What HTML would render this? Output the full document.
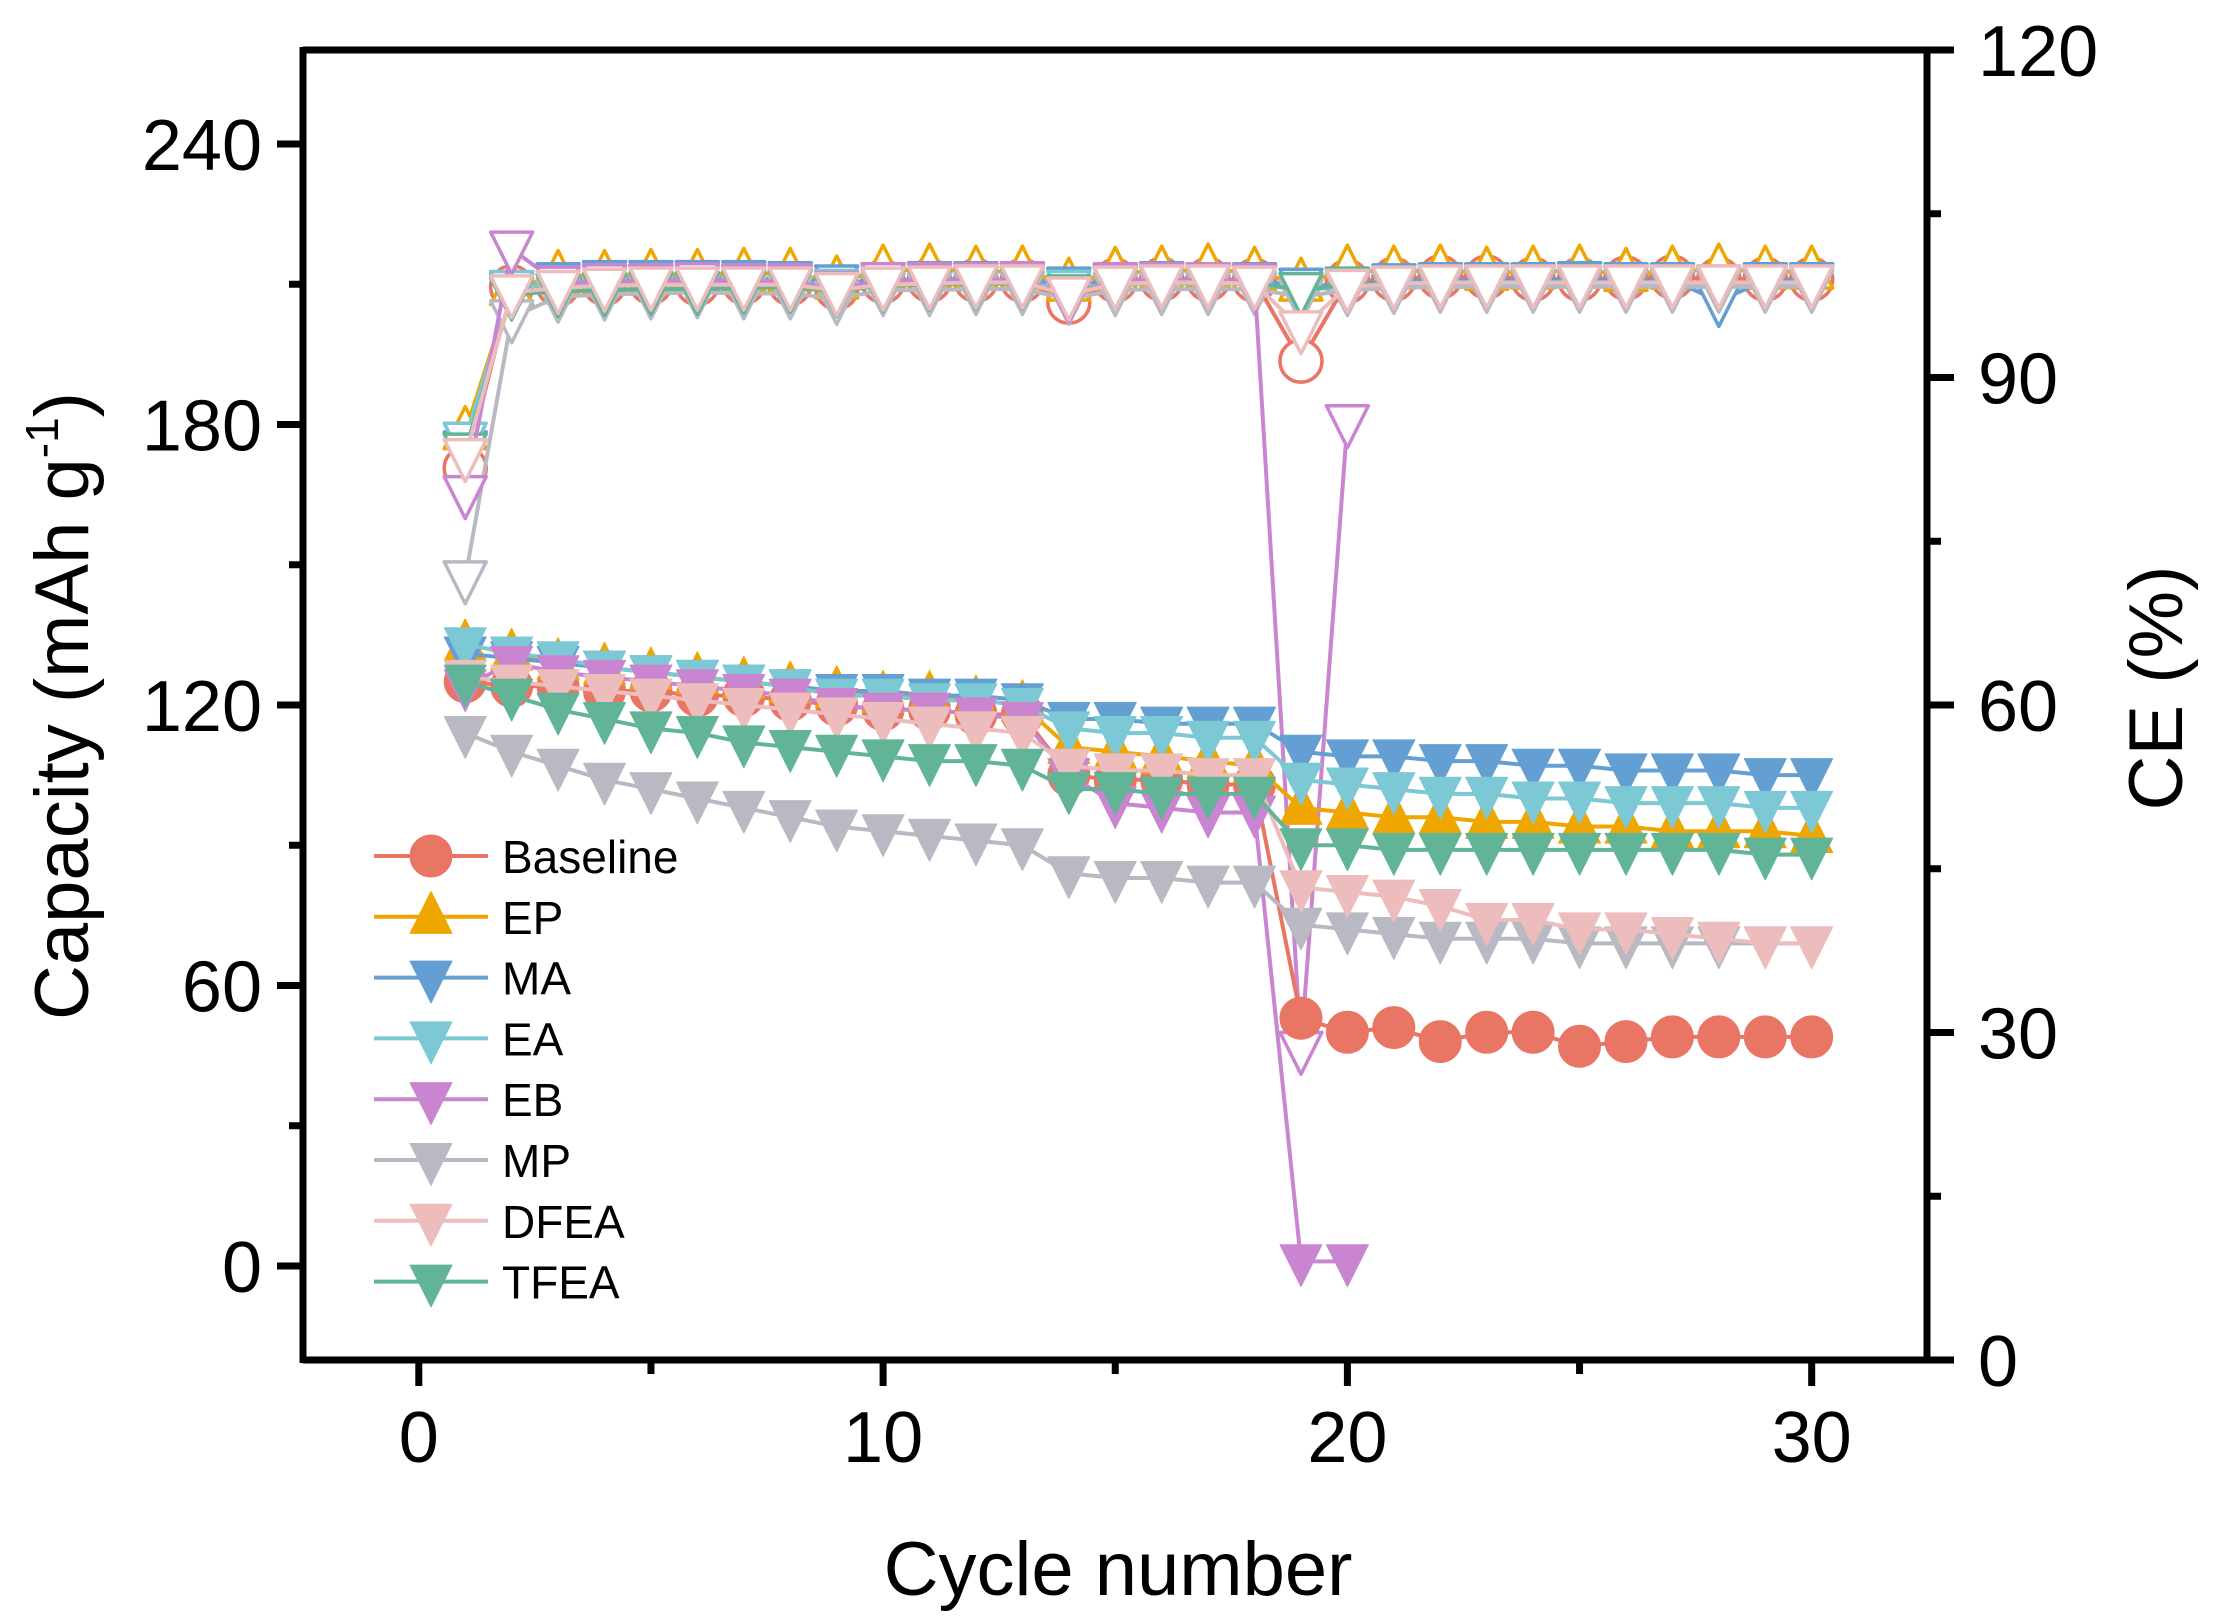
<!DOCTYPE html>
<html><head><meta charset="utf-8"><style>
html,body{margin:0;padding:0;background:#fff;}
svg{display:block;font-family:"Liberation Sans",Arial,sans-serif;}
</style></head><body>
<svg id="chart" width="2222" height="1619" viewBox="0 0 2222 1619" xmlns="http://www.w3.org/2000/svg">
<rect width="2222" height="1619" fill="#fff"/>
<g id="axes"></g>
<g id="series"></g>
<g id="legend"></g>
<text x="1118" y="1595" font-size="76" text-anchor="middle">Cycle number</text>
<text transform="translate(88,706) rotate(-90)" font-size="76" text-anchor="middle">Capacity (mAh g<tspan dy="-30" font-size="46">-1</tspan><tspan dy="30">)</tspan></text>
<text transform="translate(2182,688) rotate(-90)" font-size="76" text-anchor="middle">CE (%)</text>
</svg>
<script>
const cycles = [1,2,3,4,5,6,7,8,9,10,11,12,13,14,15,16,17,18,19,20,21,22,23,24,25,26,27,28,29,30];
const seriesNames = ["Baseline","EP","MA","EA","EB","MP","DFEA","TFEA"];
const capBaseline = [125,124,124,123,123,122,122,121,120,119,119,118,118,105,104,104,103,103,53,50,51,48,50,50,47,48,49,49,49,49];
const capEP = [133,131,129,128,127,126,125,124,123,122,122,121,120,111,110,109,108,107,98,97,96,96,95,95,94,94,93,93,93,92];
const capMA = [131,130,129,128,127,126,125,124,123,123,122,122,121,117,117,116,116,116,110,109,109,108,108,107,107,106,106,106,105,105];
const capEA = [133,131,130,128,127,126,125,124,122,122,121,121,120,115,114,114,113,113,104,103,102,101,101,100,100,99,99,99,98,98];
const capEB = [124,129,127,126,125,124,123,122,120,119,119,118,117,105,99,98,97,97,1,1];
const capMP = [114,110,107,104,102,100,98,96,94,93,92,91,90,84,83,83,82,82,73,72,71,70,70,70,69,69,69,69,69,69];
const capDFEA = [126,125,124,123,122,121,120,119,118,117,116,115,114,107,106,106,105,105,81,80,79,77,74,74,72,72,71,70,69,69];
const capTFEA = [125,122,119,117,115,114,112,111,110,109,108,108,107,102,102,101,101,101,90,90,89,89,89,89,89,89,89,89,88,88];
const ceBaseline = [81.7,98.3,98.5,98.6,98.7,98.6,98.7,98.6,98.2,98.8,98.9,98.9,98.9,96.9,98.9,99.0,99.0,98.9,91.5,98.8,99.0,99.2,99.2,99.0,99.0,99.1,99.2,99.0,99.0,99.0];
const ceEP = [85.0,98.2,99.3,99.3,99.4,99.4,99.5,99.5,98.8,99.8,99.9,99.7,99.7,98.6,99.6,99.7,99.9,99.6,98.6,99.8,99.7,99.8,99.6,99.7,99.8,99.5,99.7,99.9,99.7,99.7];
const ceMA = [83.5,98.0,98.9,99.1,99.1,99.1,99.1,99.0,98.7,98.9,99.0,99.0,98.9,98.5,98.8,99.0,98.9,98.9,98.4,98.5,98.8,98.9,98.9,98.9,99.0,98.9,98.9,97.0,98.9,98.9];
const ceEA = [84.3,98.2,98.6,98.7,98.7,98.7,98.7,98.7,98.3,98.6,98.6,98.6,98.6,98.2,98.5,98.6,98.6,98.6,98.0,98.3,98.4,98.5,98.5,98.6,98.6,98.6,98.6,98.6,98.6,98.6];
const ceEB = [79.4,101.8,98.6,98.8,98.8,98.9,98.8,98.8,98.1,98.9,98.9,98.9,99.0,97.4,98.9,98.9,98.9,98.8,28.5,85.9];
const ceMP = [71.6,95.5,97.4,97.6,97.7,97.8,97.7,97.7,97.2,98.0,98.0,98.1,98.1,97.2,98.0,98.1,98.1,98.1,97.4,98.0,98.2,98.3,98.3,98.3,98.3,98.3,98.3,98.3,98.3,98.3];
const ceDFEA = [82.8,97.8,98.2,98.4,98.5,98.5,98.5,98.5,98.0,98.5,98.6,98.7,98.7,97.6,98.6,98.7,98.7,98.6,94.5,98.3,98.6,98.7,98.7,98.7,98.7,98.7,98.7,98.7,98.7,98.7];
const ceTFEA = [83.3,97.6,97.9,98.0,98.1,98.1,98.2,98.3,97.9,98.4,98.5,98.6,98.6,97.8,98.6,98.7,98.7,98.7,98.0,98.5,98.6,98.7,98.7,98.7,98.7,98.7,98.7,98.7,98.7,98.7];
const xTicks = [0,10,20,30];
const leftTicks = [0,60,120,180,240];
const rightTicks = [0,30,60,90,120];

const NS="http://www.w3.org/2000/svg";
const PL=303, PR=1927, PT=50, PB=1360;
const X=v=>418.8+v*46.43;
const YL=v=>1266-v*4.675;
const YR=v=>1360-v*(1310/120);
function mk(tag,attrs,parent){const e=document.createElementNS(NS,tag);for(const k in attrs)e.setAttribute(k,attrs[k]);parent.appendChild(e);return e;}
const axes=document.getElementById('axes');
let f;
f=mk('line',{x1:PL,y1:PB,x2:1954,y2:PB,stroke:'#000','stroke-width':7},axes);


f=mk('line',{x1:PL,y1:PT,x2:1954,y2:PT,stroke:'#000','stroke-width':7},axes);


f=mk('line',{x1:PL,y1:PT-3,x2:PL,y2:PB+3,stroke:'#000','stroke-width':7},axes);


f=mk('line',{x1:PR,y1:PT-3,x2:PR,y2:PB+3,stroke:'#000','stroke-width':7},axes);


for(let v=0;v<=30;v+=5){const major=v%10===0;
 const t=mk('line',{x1:X(v),y1:PB,x2:X(v),y2:PB+(major?26:14),stroke:'#000','stroke-width':7},axes);
 
 }
xTicks.forEach(v=>{const t=mk('text',{x:X(v),y:1462,'font-size':72,'text-anchor':'middle'},axes);t.textContent=v;
 
 });
for(let v=-30;v<=270;v+=30){const y=YL(v);if(y<PT||y>PB)continue;const major=v%60===0;
 const t=mk('line',{x1:PL,y1:y,x2:PL-(major?26:14),y2:y,stroke:'#000','stroke-width':7},axes);
 
 }
leftTicks.forEach(v=>{const t=mk('text',{x:262,y:YL(v)+26,'font-size':72,'text-anchor':'end'},axes);t.textContent=v;
 
 });
for(let v=0;v<=120;v+=15){const major=v%30===0;
 const t=mk('line',{x1:PR,y1:YR(v),x2:PR+(major?27:14),y2:YR(v),stroke:'#000','stroke-width':7},axes);
 
 }
rightTicks.forEach(v=>{const t=mk('text',{x:1978,y:YR(v)+26,'font-size':72,'text-anchor':'start'},axes);t.textContent=v;
 
 });

const colors=["#E97565","#EFA600","#649FD4","#7CC8D4","#C985D0","#B9B9C4","#EDBDBD","#61B596"];
const shapes=["circle","up","down","down","down","down","down","down"];
const caps=[capBaseline,capEP,capMA,capEA,capEB,capMP,capDFEA,capTFEA];
const ces=[ceBaseline,ceEP,ceMA,ceEA,ceEB,ceMP,ceDFEA,ceTFEA];
const ceOrder=[0,1,2,3,5,7,4,6];
const S=21;
function marker(shape,x,y,col,filled,parent){
 const a={fill:filled?col:'#fff',stroke:col,'stroke-width':filled?1:3.5,'stroke-linejoin':'round'};
 if(shape==='circle'){a.cx=x;a.cy=y;a.r=S;return mk('circle',a,parent);}
 const h=S*1.05;
 if(shape==='up')a.points=`${x},${y-h*1.15} ${x-S},${y+h*0.75} ${x+S},${y+h*0.75}`;
 else a.points=`${x},${y+h*1.15} ${x-S},${y-h*0.75} ${x+S},${y-h*0.75}`;
 return mk('polygon',a,parent);
}
const sg=document.getElementById('series');
ceOrder.forEach(i=>{
 const g=mk('g',{},sg);
 
 
 const d=ces[i];
 const pl=mk('polyline',{points:d.map((v,j)=>X(cycles[j])+','+YR(v)).join(' '),fill:'none',stroke:colors[i],'stroke-width':4},g);
 
 
 d.forEach((v,j)=>{const m=marker(shapes[i],X(cycles[j]),YR(v),colors[i],false,g);
  
  });
});
for(let i=0;i<8;i++){
 const g=mk('g',{},sg);
 
 
 const d=caps[i];
 const pl=mk('polyline',{points:d.map((v,j)=>X(cycles[j])+','+YL(v)).join(' '),fill:'none',stroke:colors[i],'stroke-width':4},g);
 
 
 d.forEach((v,j)=>{const m=marker(shapes[i],X(cycles[j]),YL(v),colors[i],true,g);
  
  });
}
const lg=document.getElementById('legend');
seriesNames.forEach((n,i)=>{
 const y=856+i*60.8;
 const g=mk('g',{},lg);
 
 
 mk('line',{x1:374,y1:y,x2:488,y2:y,stroke:colors[i],'stroke-width':4},g);
 marker(shapes[i],431,y,colors[i],true,g);
 const t=mk('text',{x:502,y:y+17,'font-size':46},g);t.textContent=n;
});
</script>
</body></html>
